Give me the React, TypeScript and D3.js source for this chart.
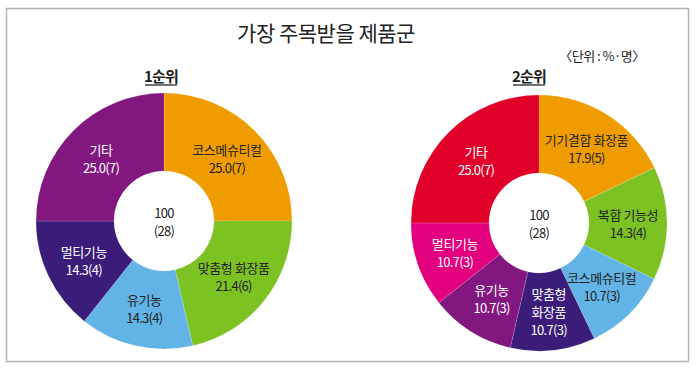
import React from 'react';
import * as d3 from 'd3';

// data
const firstNames = ['코스메슈티컬', '맞춤형 화장품', '유기농', '멀티기능', '기타'];
const firstValues = [25.0, 21.4, 14.3, 14.3, 25.0];
const firstCounts = [7, 6, 4, 4, 7];
const firstColors = ['#ef9c00', '#7cc223', '#62b4e6', '#3b1d79', '#82187f'];
const firstDark = [true, true, true, false, false];

const secondNames = ['기기결합 화장품', '복합 기능성', '코스메슈티컬', '맞춤형\n화장품', '유기농', '멀티기능', '기타'];
const secondValues = [17.9, 14.3, 10.7, 10.7, 10.7, 10.7, 25.0];
const secondCounts = [5, 4, 3, 3, 3, 3, 7];
const secondColors = ['#ef9c00', '#7cc223', '#62b4e6', '#3b1d79', '#82187f', '#e2007f', '#e0002a'];
const secondDark = [true, true, true, false, false, false, false];

const totalPct = 100;
const totalCount = 28;

const font = '"Noto Sans CJK KR", "Noto Sans", sans-serif';

function Donut({ cx, cy, names, values, counts, colors, dark }) {
  const rOuter = 128;
  const rInner = 50;
  const pie = d3.pie().sort(null).value((d, i) => values[i]);
  const arcs = pie(values);
  const arc = d3.arc().innerRadius(rInner).outerRadius(rOuter);

  return (
    <g transform={`translate(${cx},${cy})`}>
      {arcs.map((a, i) => (
        <path key={'s' + i} d={arc(a)} fill={colors[i]} stroke="#ffffff" strokeOpacity={0.25} strokeWidth={0.6} />
      ))}
      {arcs.map((a, i) => {
        const [x, y] = arc.centroid(a);
        const lines = names[i].split('\n');
        lines.push(values[i].toFixed(1) + '(' + counts[i] + ')');
        const lh = 18;
        const y0 = y - ((lines.length - 1) * lh) / 2;
        return (
          <text key={'t' + i} x={x} y={y0} textAnchor="middle" fontFamily={font} fontSize={13}
            fill={dark[i] ? '#222222' : '#ffffff'} dominantBaseline="central">
            {lines.map((l, j) => (
              <tspan key={j} x={x} y={y0 + j * lh} letterSpacing={j === lines.length - 1 ? -0.7 : -0.4}>{l}</tspan>
            ))}
          </text>
        );
      })}
      <text x={0} y={-9} textAnchor="middle" dominantBaseline="central" fontFamily={font} fontSize={13} fill="#222" letterSpacing={-0.7}>{totalPct}</text>
      <text x={0} y={9} textAnchor="middle" dominantBaseline="central" fontFamily={font} fontSize={13} fill="#222" letterSpacing={-0.7}>({totalCount})</text>
    </g>
  );
}

export default function App() {
  const W = 700;
  const H = 369;
  return (
    <svg width={W} height={H} style={{ position: 'absolute', left: 0, top: 0 }}>
      <rect x={0} y={0} width={W} height={H} fill="#ffffff" />
      <rect x={6.5} y={8.5} width={682} height={353} fill="none" stroke="#b4b4b4" strokeWidth={1.5} />
      <text x={326} y={32} textAnchor="middle" dominantBaseline="central" fontFamily={font} fontSize={21} fill="#222" letterSpacing={-0.5}>가장 주목받을 제품군</text>
      <text x={602} y={55} textAnchor="middle" dominantBaseline="central" fontFamily={font} fontSize={13} fill="#222" letterSpacing={-0.5}>〈단위 : %·명〉</text>

      <text x={161} y={75} textAnchor="middle" dominantBaseline="central" fontFamily={font} fontSize={15} fontWeight="bold" fill="#222" letterSpacing={-0.8}>1순위</text>
      <line x1={145} x2={177} y1={85} y2={85} stroke="#222" strokeWidth={1.3} />
      <text x={529} y={75} textAnchor="middle" dominantBaseline="central" fontFamily={font} fontSize={15} fontWeight="bold" fill="#222" letterSpacing={-0.8}>2순위</text>
      <line x1={513} x2={545} y1={85} y2={85} stroke="#222" strokeWidth={1.3} />

      <Donut cx={164} cy={221} names={firstNames} values={firstValues} counts={firstCounts} colors={firstColors} dark={firstDark} />
      <Donut cx={539} cy={223} names={secondNames} values={secondValues} counts={secondCounts} colors={secondColors} dark={secondDark} />
    </svg>
  );
}
